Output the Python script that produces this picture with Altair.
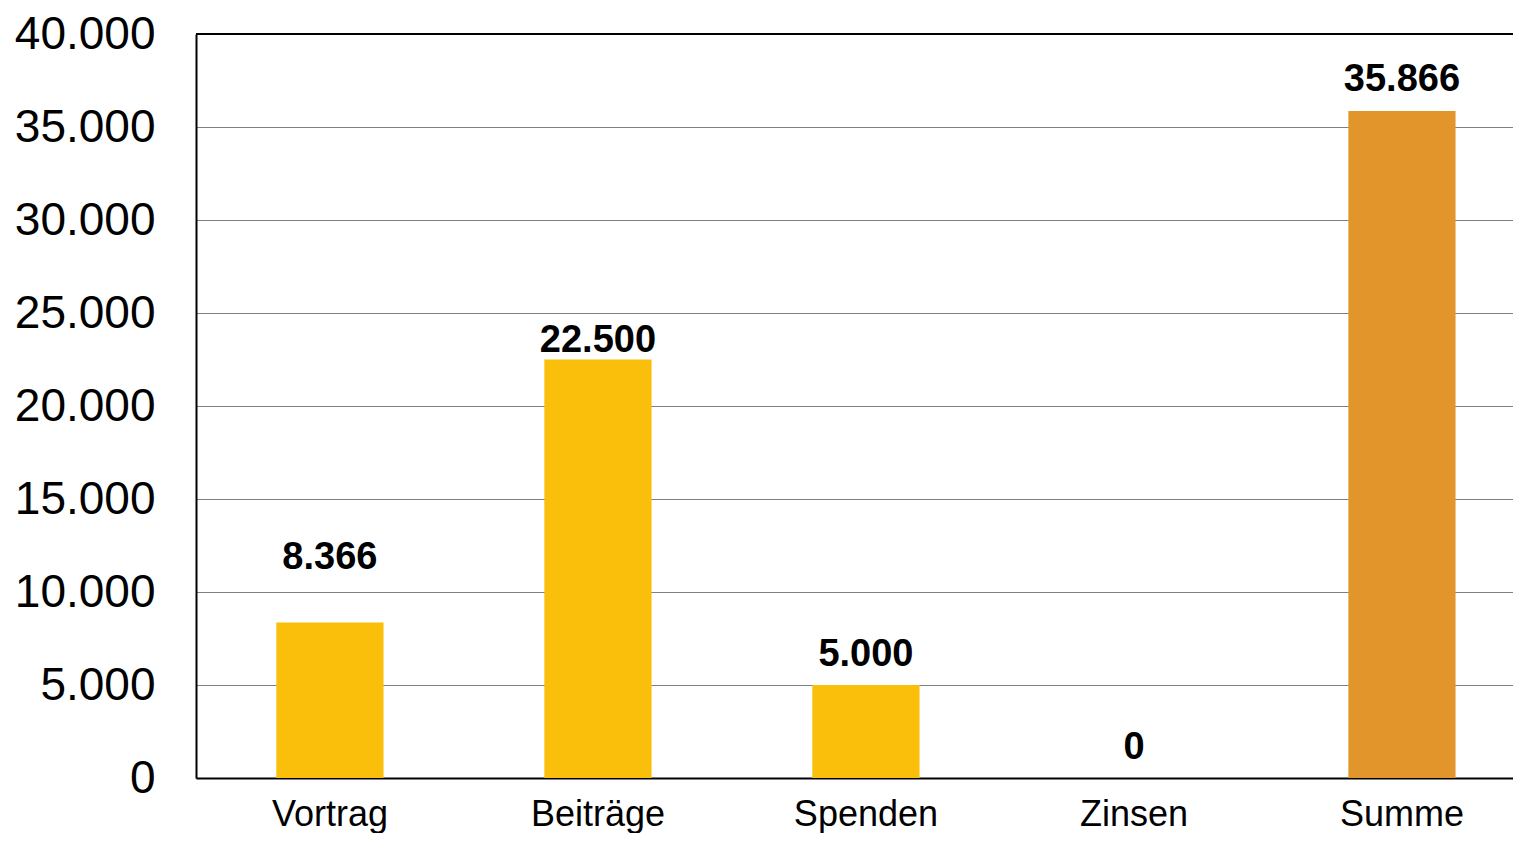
import altair as alt
import pandas as pd

categories = ["Vortrag", "Beiträge", "Spenden", "Zinsen", "Summe"]
values = [8366, 22500, 5000, 0, 35866]
label_pos = [11950, 23620, 6740, 1740, 37650]
kinds = ["Einnahme", "Einnahme", "Einnahme", "Einnahme", "Summe"]
y_ticks = [0, 5000, 10000, 15000, 20000, 25000, 30000, 35000, 40000]

df = pd.DataFrame({"cat": categories, "value": values, "lpos": label_pos, "kind": kinds})

W, H = 1317, 744
FONT = "Liberation Sans"

x_enc = alt.X("cat:N", sort=categories,
              scale=alt.Scale(paddingInner=0.6, paddingOuter=0.257, align=0.583),
              axis=alt.Axis(title=None, labelAngle=0, labelFontSize=36, labelFont=FONT,
                            labelColor="black", ticks=False, tickSize=0, labelPadding=19,
                            domainColor="black", domainWidth=2, grid=False,
                            labelBaseline="top"))
y_scale = alt.Scale(domain=[0, 40000], nice=False)

bars = alt.Chart(df).mark_bar().encode(
    x=x_enc,
    y=alt.Y("value:Q", scale=y_scale,
            axis=alt.Axis(title=None, values=y_ticks, labelFontSize=46, labelFont=FONT,
                          labelColor="black", ticks=False, tickSize=0, labelPadding=41,
                          domainColor="black", domainWidth=2, gridColor="#808080",
                          gridWidth=1, labelExpr="replace(format(datum.value, ','), ',', '.')")),
    color=alt.Color("kind:N", scale=alt.Scale(domain=["Einnahme", "Summe"],
                                              range=["#F9BF0B", "#E1952A"]), legend=None),
)

labels = alt.Chart(df).transform_calculate(
    label="replace(format(datum.value, ','), ',', '.')"
).mark_text(fontSize=38, fontWeight="bold", font=FONT, color="black",
            baseline="middle", dy=2).encode(
    x=alt.X("cat:N", sort=categories),
    y=alt.Y("lpos:Q", scale=y_scale),
    text="label:N",
)

top_line = alt.Chart(pd.DataFrame({"v": [40000]})).mark_rule(color="black", strokeWidth=2).encode(
    y=alt.Y("v:Q", scale=y_scale), x=alt.value(0), x2=alt.value(W)
)

chart = alt.layer(bars, labels, top_line).properties(
    width=W, height=H,
    autosize=alt.AutoSizeParams(type="none"),
    padding={"left": 188, "top": 26, "right": 0, "bottom": 55},
).configure_view(stroke=None).configure(background="white")

chart.save("out.html", embed_options={"renderer": "svg", "actions": False})
